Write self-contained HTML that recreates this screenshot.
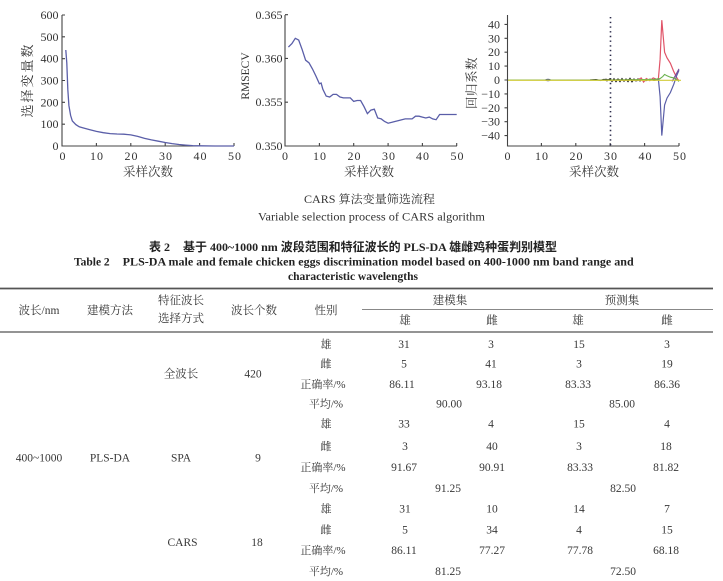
<!DOCTYPE html>
<html><head><meta charset="utf-8"><style>
html,body{margin:0;padding:0;background:#fff;}
svg{display:block;}
.tk{font-family:"Liberation Serif","Noto Serif CJK SC",serif;font-size:12px;fill:#333;}
.cj{font-family:"Liberation Serif","Noto Serif CJK SC",serif;fill:#333;}
.tb{font-family:"Liberation Serif","Noto Serif CJK SC",serif;font-size:11.5px;fill:#383838;text-anchor:middle;}
.bd{font-family:"Liberation Serif","Noto Sans CJK SC",sans-serif;font-weight:bold;fill:#222;}
</style></head><body>
<svg width="723" height="581" viewBox="0 0 723 581" xmlns="http://www.w3.org/2000/svg">
<rect width="723" height="581" fill="#fff"/>

<!-- Chart 1 -->
<g stroke="#444" stroke-width="1.1" fill="none">
<path d="M62,15V146H234"/>
<path d="M62,15h3M62,36.8h3M62,58.7h3M62,80.5h3M62,102.3h3M62,124.2h3"/>
<path d="M96.4,146v-3M130.8,146v-3M165.2,146v-3M199.6,146v-3M234,146v-3"/>
</g>
<g class="tk" text-anchor="end">
<text x="58.5" y="19">600</text><text x="58.5" y="40.8">500</text><text x="58.5" y="62.7">400</text>
<text x="58.5" y="84.5">300</text><text x="58.5" y="106.3">200</text><text x="58.5" y="128.2">100</text><text x="58.5" y="150">0</text>
</g>
<g class="tk" text-anchor="middle" letter-spacing="1">
<text x="63" y="160">0</text><text x="97" y="160">10</text><text x="131.5" y="160">20</text><text x="166" y="160">30</text><text x="200.5" y="160">40</text><text x="235" y="160">50</text>
</g>
<text class="cj" font-size="12.5" x="148" y="176" text-anchor="middle">采样次数</text>
<text class="cj" font-size="13" letter-spacing="2" transform="translate(32,80) rotate(-90)" text-anchor="middle">选择变量数</text>
<polyline fill="none" stroke="#5a5ea8" stroke-width="1.3" points="65.8,50 66.8,63 67.8,89.2 68.9,105.6 70.6,115.4 72.3,120.9 75.8,124.6 79.2,126.8 82.6,127.7 89.5,129.6 96.4,131.4 103.3,132.7 110.2,133.6 117,134 123.9,134.2 130.8,134.9 137.7,136.4 144.6,138.4 151.4,139.9 158.3,141.2 165.2,142.5 172.1,143.6 179,144.5 185.8,145.1 192.7,145.6 199.6,145.8 215,146 234,146"/>

<!-- Chart 2 -->
<g stroke="#444" stroke-width="1.1" fill="none">
<path d="M285,15V146H457"/>
<path d="M285,14.7h3M285,58.4h3M285,102.2h3"/>
<path d="M319.4,146v-3M353.7,146v-3M388.1,146v-3M422.4,146v-3M456.7,146v-3"/>
</g>
<g class="tk" text-anchor="end">
<text x="282.5" y="19">0.365</text><text x="282.5" y="62.5">0.360</text><text x="282.5" y="106.2">0.355</text><text x="282.5" y="150">0.350</text>
</g>
<g class="tk" text-anchor="middle" letter-spacing="1">
<text x="285.5" y="160">0</text><text x="320" y="160">10</text><text x="354.5" y="160">20</text><text x="389" y="160">30</text><text x="423" y="160">40</text><text x="457.5" y="160">50</text>
</g>
<text class="cj" font-size="12.5" x="369" y="176" text-anchor="middle">采样次数</text>
<text class="cj" font-size="11.5" transform="translate(249,76) rotate(-90)" text-anchor="middle">RMSECV</text>
<polyline fill="none" stroke="#5a5ea8" stroke-width="1.3" points="288.4,47.1 291.9,43.6 295.3,38.3 298.7,40.1 302.2,49.7 305.6,60.2 309,62.8 312.5,69 315.9,76 319.4,83.8 321.1,83 322.8,89.1 326.2,96.1 329.7,97 333.1,94.4 336.5,94.4 340,97 343.4,97.9 350.3,97.9 353.7,101.4 357.1,100.5 360.6,100.5 364,106.6 367.4,113.6 370.9,110.1 374.3,109.2 377.7,118 381.2,118.9 384.6,121.5 388.1,123.2 391.5,122.4 394.9,121.5 398.4,120.6 401.8,119.7 405.2,118.9 412.1,118.9 415.5,116.2 419,116.2 422.4,117.1 425.8,118 429.3,117.1 432.7,118.9 436.1,119.7 439.6,114.5 443,114.5 456.7,114.5"/>

<!-- Chart 3 -->
<g stroke="#444" stroke-width="1.1" fill="none">
<path d="M507.5,15V146H679"/>
<path d="M507.5,24.4h-3M507.5,38.3h-3M507.5,52.2h-3M507.5,66.1h-3M507.5,80h-3M507.5,93.9h-3M507.5,107.8h-3M507.5,121.7h-3M507.5,135.6h-3"/>
<path d="M541.4,146v-3M575.8,146v-3M610.2,146v-3M644.6,146v-3M679,146v-3"/>
</g>
<g class="tk" text-anchor="end" font-size="11.5">
<text x="500" y="28.4">40</text><text x="500" y="42.3">30</text><text x="500" y="56.2">20</text><text x="500" y="70.1">10</text><text x="500" y="84">0</text>
<text x="500" y="97.9">−10</text><text x="500" y="111.8">−20</text><text x="500" y="125.7">−30</text><text x="500" y="139.6">−40</text>
</g>
<g class="tk" text-anchor="middle" letter-spacing="1">
<text x="508" y="160">0</text><text x="542" y="160">10</text><text x="576.5" y="160">20</text><text x="611" y="160">30</text><text x="645.5" y="160">40</text><text x="680" y="160">50</text>
</g>
<text class="cj" font-size="12.5" x="594" y="176" text-anchor="middle">采样次数</text>
<text class="cj" font-size="12.5" letter-spacing="0.5" transform="translate(476,83) rotate(-90)" text-anchor="middle">回归系数</text>
<line x1="610.5" y1="17" x2="610.5" y2="146" stroke="#2a2a4a" stroke-width="1.6" stroke-dasharray="1.4 3.3"/>
<line x1="508" y1="80" x2="660" y2="80" stroke="#556" stroke-width="1"/>
<ellipse cx="548" cy="80" rx="3" ry="1.2" fill="#4a4a8a"/>
<polyline fill="none" stroke="#222" stroke-width="1.2" points="590,80 596,79.6 600,80.4 604,79.4 607,80.8 610,78.8 612,81.4 614,78.8 616,81.6 618,79 620,81.6 622,78.6 624,81.2 626,79 628,81.6 630,78.4 632,81.8 634,79 636,80.8 638,79 640,81 642,79.4 646,80.6 650,79.2 654,80.4 658,79.6"/>
<polyline fill="none" stroke="#333" stroke-width="1" points="600,80.6 606,79.2 612,80.8 618,79.4 624,80.6 630,79.2 636,80.8 642,79.6"/>
<polyline fill="none" stroke="#e05468" stroke-width="1.2" points="637.7,80 641.2,77.9 643.6,82.1 646.3,78.6 649.8,80.7 653.2,77.9 656.6,79.3 658.4,78.6 660.1,59.2 661.8,20.2 664.6,52.2 667,57.8 670.4,63.3 673.8,71.7 677.3,78.6 679,80.7"/>
<polyline fill="none" stroke="#5a5ea8" stroke-width="1.2" points="654.9,79.3 658.4,79.3 660.1,96.7 661.8,135.6 664.6,105 667,98.1 670.4,92.5 673.8,84.2 676.6,75.8 679,70.3"/>
<polyline fill="none" stroke="#7a4a9a" stroke-width="1.1" points="672.1,81.4 675.6,75.1 679,68.9"/>
<polyline fill="none" stroke="#6ab04c" stroke-width="1.1" points="508,80 600,80.2 644.6,79.6 654.9,79.3 660.1,78.6 662.8,76.5 664.6,74.4 667,75.8 670.4,77.2 673.8,77.9 677.3,80 679,81.4"/>
<line x1="508" y1="80.3" x2="681" y2="80.3" stroke="#d2cc3a" stroke-width="1.2"/>

<!-- Captions -->
<text class="cj" font-size="11.5" x="304" y="203" textLength="131" lengthAdjust="spacingAndGlyphs">CARS 算法变量筛选流程</text>
<text class="cj" font-size="11.5" x="258" y="220.5" textLength="227" lengthAdjust="spacingAndGlyphs">Variable selection process of CARS algorithm</text>

<text class="bd" font-size="12" x="149" y="251">表 2</text>
<text class="bd" font-size="12" x="183" y="251" textLength="374" lengthAdjust="spacingAndGlyphs">基于 400~1000 nm 波段范围和特征波长的 PLS-DA 雄雌鸡种蛋判别模型</text>
<text class="bd" font-size="11.5" x="74" y="265.5">Table 2</text>
<text class="bd" font-size="11.5" x="122.7" y="265.5" textLength="511" lengthAdjust="spacingAndGlyphs">PLS-DA male and female chicken eggs discrimination model based on 400-1000 nm band range and</text>
<text class="bd" font-size="11.5" x="353" y="280" text-anchor="middle">characteristic wavelengths</text>

<!-- Table rules -->
<line x1="0" y1="288.5" x2="713" y2="288.5" stroke="#555" stroke-width="1.8"/>
<line x1="362" y1="309.5" x2="713" y2="309.5" stroke="#888" stroke-width="1"/>
<line x1="0" y1="332" x2="713" y2="332" stroke="#555" stroke-width="1.3"/>

<!-- Header -->
<g class="tb">
<text x="39" y="314">波长/nm</text>
<text x="110" y="314">建模方法</text>
<text x="181" y="304">特征波长</text>
<text x="181" y="322">选择方式</text>
<text x="254" y="314">波长个数</text>
<text x="326" y="314">性别</text>
<text x="450" y="304">建模集</text>
<text x="622" y="304">预测集</text>
<text x="405" y="324">雄</text><text x="492" y="324">雌</text><text x="578" y="324">雄</text><text x="667" y="324">雌</text>
</g>

<!-- Body -->
<g class="tb">
<text x="181" y="377.5">全波长</text><text x="253" y="377.5">420</text>
<text x="39" y="461.5">400~1000</text><text x="110" y="461.5">PLS-DA</text><text x="181" y="461.5">SPA</text><text x="258" y="461.5">9</text>
<text x="182.5" y="546">CARS</text><text x="257" y="546">18</text>

<text x="326" y="348" font-size="11">雄</text>
<text x="326" y="367.5" font-size="11">雌</text>
<text x="323" y="388" font-size="11">正确率/%</text>
<text x="326" y="407.5" font-size="11">平均/%</text>
<text x="326" y="427.5" font-size="11">雄</text>
<text x="326" y="450" font-size="11">雌</text>
<text x="323" y="471" font-size="11">正确率/%</text>
<text x="326" y="492" font-size="11">平均/%</text>
<text x="326" y="512.5" font-size="11">雄</text>
<text x="326" y="533.5" font-size="11">雌</text>
<text x="323" y="554" font-size="11">正确率/%</text>
<text x="326" y="575" font-size="11">平均/%</text>

<text x="404" y="348">31</text><text x="491" y="348">3</text><text x="579" y="348">15</text><text x="667" y="348">3</text>
<text x="404" y="367.5">5</text><text x="491" y="367.5">41</text><text x="579" y="367.5">3</text><text x="667" y="367.5">19</text>
<text x="402" y="388">86.11</text><text x="489" y="388">93.18</text><text x="578" y="388">83.33</text><text x="667" y="388">86.36</text>
<text x="449" y="407.5">90.00</text><text x="622" y="407.5">85.00</text>
<text x="404" y="427.5">33</text><text x="491" y="427.5">4</text><text x="579" y="427.5">15</text><text x="667" y="427.5">4</text>
<text x="405" y="450">3</text><text x="492" y="450">40</text><text x="579" y="450">3</text><text x="666" y="450">18</text>
<text x="404" y="471">91.67</text><text x="492" y="471">90.91</text><text x="580" y="471">83.33</text><text x="666" y="471">81.82</text>
<text x="448" y="492">91.25</text><text x="623" y="492">82.50</text>
<text x="405" y="512.5">31</text><text x="492" y="512.5">10</text><text x="579" y="512.5">14</text><text x="667" y="512.5">7</text>
<text x="405" y="533.5">5</text><text x="492" y="533.5">34</text><text x="579" y="533.5">4</text><text x="667" y="533.5">15</text>
<text x="404" y="554">86.11</text><text x="492" y="554">77.27</text><text x="580" y="554">77.78</text><text x="666" y="554">68.18</text>
<text x="448" y="575">81.25</text><text x="623" y="575">72.50</text>
</g>
</svg>
</body></html>
